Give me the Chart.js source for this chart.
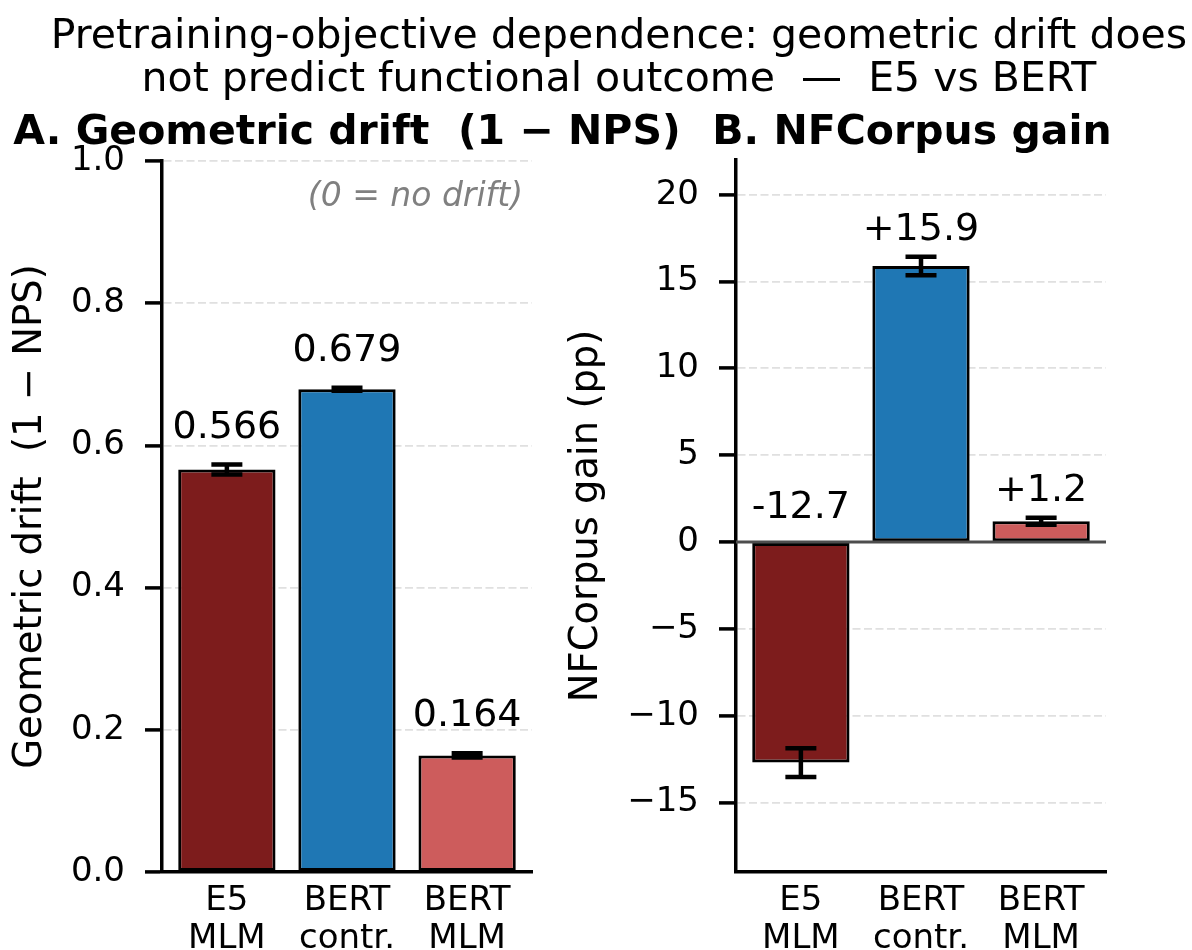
<!DOCTYPE html>
<html><head><meta charset="utf-8">
<script src="https://cdn.jsdelivr.net/npm/chart.js@4.4.0/dist/chart.umd.min.js"></script>
<style>
html,body{margin:0;padding:0;background:#fff;}
#wrap{position:relative;width:1192px;height:950px;overflow:hidden;background:#fff;}
canvas{position:absolute;left:0;top:0;}
</style></head><body>
<div id="wrap"><canvas id="cA" width="1192" height="950"></canvas><canvas id="cB" width="1192" height="950"></canvas></div>
<script>
const suptitleLines = ['Pretraining-objective dependence: geometric drift does', 'not predict functional outcome  \u2014  E5 vs BERT'];
const panelTitles = ['A. Geometric drift  (1 \u2212 NPS)', 'B. NFCorpus gain'];
const yAxisTitles = ['Geometric drift  (1 \u2212 NPS)', 'NFCorpus gain (pp)'];
const driftNote = '(0 = no drift)';
const categories = [['E5', 'MLM'], ['BERT', 'contr.'], ['BERT', 'MLM']];
const barColors = ['#7d1c1c', '#1f77b4', '#cd5c5c'];
const driftValues = [0.566, 0.679, 0.164];
const driftErrors = [0.007, 0.002, 0.003];
const driftLabels = ['0.566', '0.679', '0.164'];
const driftTicks = [0, 0.2, 0.4, 0.6, 0.8, 1.0];
const gainValues = [-12.7, 15.9, 1.2];
const gainErrors = [0.83, 0.53, 0.2];
const gainLabels = ['-12.7', '+15.9', '+1.2'];
const gainTicks = [-15, -10, -5, 0, 5, 10, 15, 20];

const FONT = "'DejaVu Sans'";
Chart.defaults.font.family = FONT;
Chart.defaults.color = '#000';

function drawErrorBars(chart, values, errors) {
  const ctx = chart.ctx, xs = chart.scales.x, ys = chart.scales.y;
  ctx.save();
  ctx.strokeStyle = '#000'; ctx.lineWidth = 4.5; ctx.lineCap = 'butt';
  values.forEach((v, i) => {
    const x = xs.getPixelForValue(i);
    const y1 = ys.getPixelForValue(v - errors[i]);
    const y2 = ys.getPixelForValue(v + errors[i]);
    ctx.beginPath();
    ctx.moveTo(x, y1); ctx.lineTo(x, y2);
    ctx.moveTo(x - 15.5, y1); ctx.lineTo(x + 15.5, y1);
    ctx.moveTo(x - 15.5, y2); ctx.lineTo(x + 15.5, y2);
    ctx.stroke();
  });
  ctx.restore();
}
function drawValueLabels(chart, values, errors, labels, gapPos, gapNeg) {
  const ctx = chart.ctx, xs = chart.scales.x, ys = chart.scales.y;
  ctx.save();
  ctx.fillStyle = '#000'; ctx.font = '38px ' + FONT;
  ctx.textAlign = 'center'; ctx.textBaseline = 'alphabetic';
  values.forEach((v, i) => {
    const x = xs.getPixelForValue(i);
    const y = v >= 0 ? ys.getPixelForValue(v + errors[i]) - gapPos : ys.getPixelForValue(0) - gapNeg;
    ctx.fillText(labels[i], x, y);
  });
  ctx.restore();
}

function makePanel(id, cfg, extraPlugins) {
  return new Chart(document.getElementById(id), {
    type: 'bar',
    data: { datasets: [{
      data: cfg.values.map((v, i) => ({ x: i, y: v })),
      backgroundColor: barColors, borderColor: '#000', borderWidth: 3, borderSkipped: false,
      barPercentage: 0.81, categoryPercentage: 1
    }] },
    options: {
      responsive: false, animation: false, devicePixelRatio: 1,
      layout: { padding: { left: cfg.padLeft, right: cfg.padRight, top: cfg.padTop, bottom: 0 } },
      plugins: { legend: { display: false }, title: { display: false }, tooltip: { enabled: false } },
      scales: {
        x: {
          type: 'linear', min: -0.54, max: 2.54, offset: false,
          afterBuildTicks: s => { s.ticks = categories.map((c, i) => ({ value: i })); },
          afterFit: s => { s.height = 78; },
          ticks: { autoSkip: false, maxRotation: 0, minRotation: 0, padding: 10, color: '#000',
                   font: { size: 34, lineHeight: 1.12 }, callback: v => categories[v] },
          grid: { display: false, drawTicks: false, offset: false },
          border: { display: true, color: '#000', width: 3.5 }
        },
        y: {
          type: 'linear', min: cfg.yMin, max: cfg.yMax,
          afterBuildTicks: s => { s.ticks = cfg.ticks.map(v => ({ value: v })); },
          afterFit: s => { s.width = cfg.yWidth; },
          ticks: { padding: 20, color: '#000', font: { size: 34 }, callback: cfg.tickFmt },
          grid: {
            color: c => (c.tick && c.tick.value === 0) ? 'rgba(0,0,0,0)' : '#e0e0e0',
            lineWidth: 1.8, tickColor: '#000', tickWidth: 3.5, tickLength: 17
          },
          border: { display: true, color: '#000', width: 3.5, dash: [8, 3.5] },
          title: { display: true, text: cfg.yTitle, color: '#000', font: { size: 38.5 },
                   padding: { top: cfg.yTitlePad, bottom: 0 } }
        }
      }
    },
    plugins: extraPlugins
  });
}

makePanel('cA', {
  values: driftValues, yMin: 0, yMax: 1, ticks: driftTicks,
  tickFmt: v => Number(v).toFixed(1), yTitle: yAxisTitles[0],
  padLeft: 0, padRight: 660, padTop: 161, yWidth: 162, yTitlePad: 8
}, [{
  id: 'decorA',
  afterDatasetsDraw(chart) {
    drawErrorBars(chart, driftValues, driftErrors);
    drawValueLabels(chart, driftValues, driftErrors, driftLabels, 27, 24);
  },
  afterDraw(chart) {
    const ctx = chart.ctx;
    ctx.save();
    ctx.fillStyle = '#000'; ctx.textAlign = 'center'; ctx.textBaseline = 'alphabetic';
    ctx.font = '41px ' + FONT;
    ctx.fillText(suptitleLines[0], 619, 48);
    ctx.fillText(suptitleLines[1], 619, 91);
    ctx.font = 'bold 41px ' + FONT;
    ctx.fillText(panelTitles[0], 347, 144);
    ctx.font = 'italic 33px ' + FONT;
    ctx.fillStyle = '#808080'; ctx.textAlign = 'right';
    ctx.fillText(driftNote, 523, 206);
    ctx.restore();
  }
}]);

makePanel('cB', {
  values: gainValues, yMin: -19, yMax: 22, ticks: gainTicks,
  tickFmt: v => v < 0 ? '\u2212' + (-v) : String(v), yTitle: yAxisTitles[1],
  padLeft: 540, padRight: 86, padTop: 160, yWidth: 196, yTitlePad: 23.5
}, [{
  id: 'decorB',
  afterDatasetsDraw(chart) {
    const ctx = chart.ctx, ys = chart.scales.y, a = chart.chartArea;
    const y0 = ys.getPixelForValue(0);
    ctx.save();
    ctx.strokeStyle = '#4d4d4d'; ctx.lineWidth = 3;
    ctx.beginPath(); ctx.moveTo(a.left, y0); ctx.lineTo(a.right, y0); ctx.stroke();
    ctx.restore();
    drawErrorBars(chart, gainValues, gainErrors);
    drawValueLabels(chart, gainValues, gainErrors, gainLabels, 17, 24.5);
  },
  afterDraw(chart) {
    const ctx = chart.ctx;
    ctx.save();
    ctx.fillStyle = '#000'; ctx.textAlign = 'center'; ctx.textBaseline = 'alphabetic';
    ctx.font = 'bold 41px ' + FONT;
    ctx.fillText(panelTitles[1], 912, 144);
    ctx.restore();
  }
}]);
</script>
</body></html>
